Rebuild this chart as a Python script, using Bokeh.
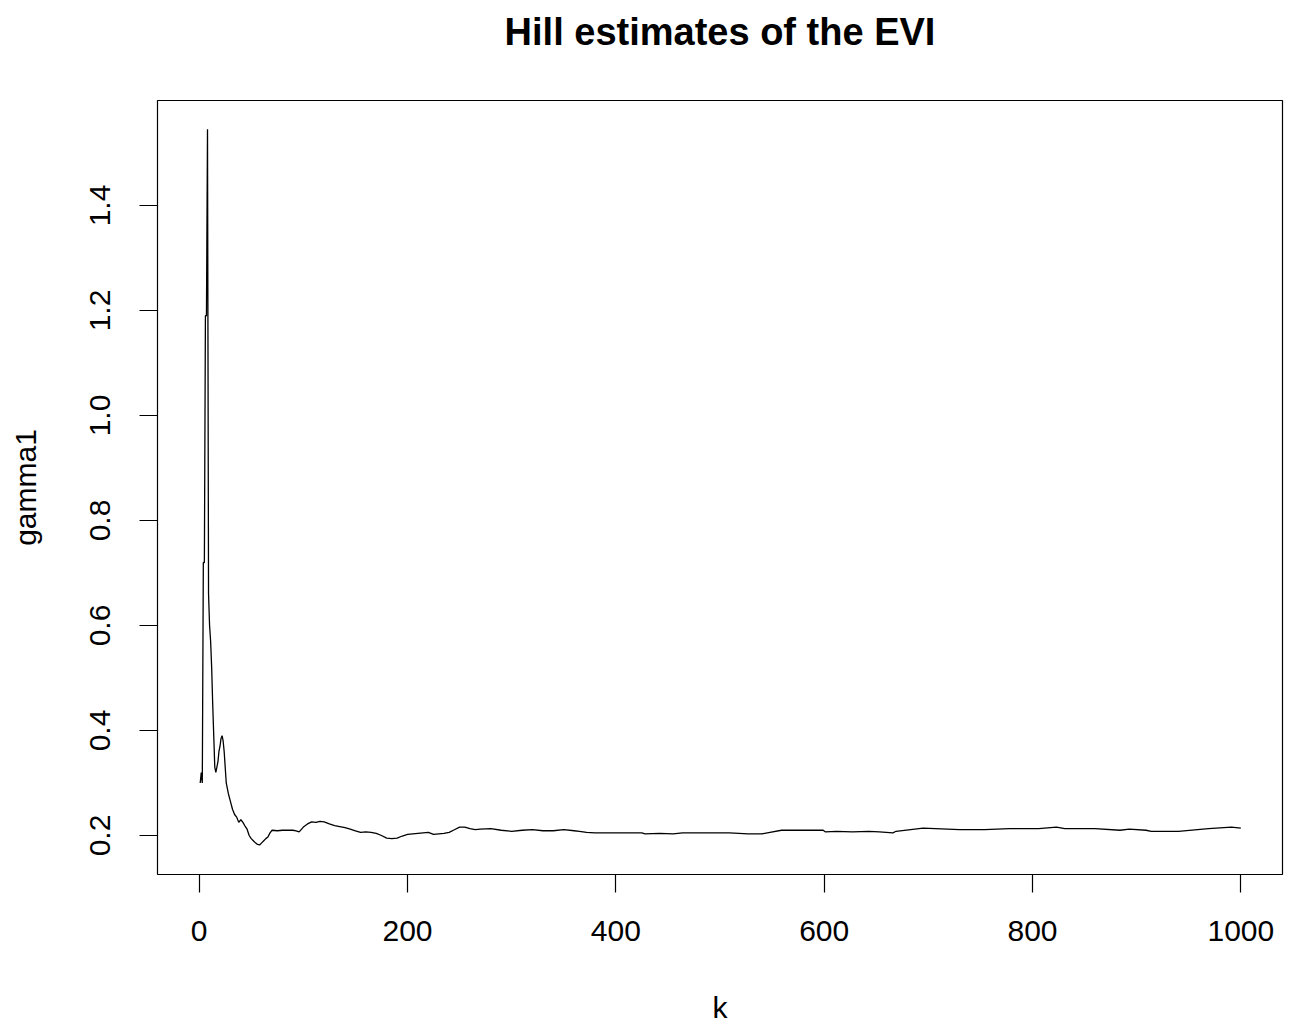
from bokeh.plotting import figure
from bokeh.models import FixedTicker, Range1d, PrintfTickFormatter
from bokeh.embed import file_html
from bokeh.resources import INLINE

# k and gamma1 values
k_values = [1, 2, 3, 4, 5, 6, 7, 8, 9, 10, 11, 12, 13, 14, 15, 16, 17, 18, 19, 20,
            21, 22, 23, 24, 25, 26, 27, 28, 30, 32, 34, 36, 38, 40, 42, 44, 46, 48,
            50, 52, 54, 56, 58, 60, 62, 64, 66, 68, 70, 75, 80, 85, 90, 93, 96,
            100, 104, 108, 112, 116, 120, 125, 130, 135, 140, 145, 150, 155, 160,
            165, 170, 175, 180, 185, 190, 195, 200, 205, 210, 215, 220, 225, 230,
            235, 240, 245, 250, 255, 260, 265, 270, 280, 290, 300, 310, 320, 330,
            340, 350, 360, 365, 372, 380, 400, 425, 428, 442, 455, 464, 480, 500,
            509, 527, 540, 548, 559, 580, 599, 601, 612, 627, 643, 653, 666, 669,
            695, 730, 754, 778, 806, 823, 831, 860, 884, 893, 909, 914, 940, 969,
            991, 1000]
gamma1_values = [0.30, 0.32, 0.30, 0.72, 0.72, 1.19, 1.19, 1.545, 0.66, 0.60, 0.57,
                 0.52, 0.45, 0.39, 0.33, 0.32, 0.33, 0.34, 0.36, 0.37, 0.385, 0.39,
                 0.38, 0.36, 0.33, 0.30, 0.29, 0.28, 0.265, 0.25, 0.24, 0.235, 0.225,
                 0.23, 0.225, 0.218, 0.212, 0.20, 0.194, 0.19, 0.186, 0.183, 0.182,
                 0.186, 0.19, 0.194, 0.197, 0.205, 0.21, 0.209, 0.21, 0.21, 0.21,
                 0.209, 0.207, 0.216, 0.222, 0.226, 0.225, 0.227, 0.226, 0.222,
                 0.219, 0.217, 0.215, 0.212, 0.209, 0.206, 0.207, 0.206, 0.204,
                 0.200, 0.195, 0.194, 0.195, 0.199, 0.202, 0.203, 0.204, 0.205,
                 0.206, 0.202, 0.203, 0.204, 0.206, 0.211, 0.216, 0.216, 0.213,
                 0.211, 0.212, 0.213, 0.210, 0.208, 0.210, 0.211, 0.209, 0.209,
                 0.211, 0.209, 0.208, 0.206, 0.205, 0.205, 0.205, 0.203, 0.204,
                 0.203, 0.205, 0.205, 0.205, 0.205, 0.203, 0.203, 0.206, 0.210,
                 0.210, 0.210, 0.207, 0.208, 0.207, 0.208, 0.207, 0.205, 0.208,
                 0.214, 0.211, 0.211, 0.213, 0.213, 0.216, 0.213, 0.213, 0.210,
                 0.212, 0.210, 0.208, 0.208, 0.213, 0.216, 0.214]

x_ticks = [0, 200, 400, 600, 800, 1000]
y_ticks = [0.2, 0.4, 0.6, 0.8, 1.0, 1.2, 1.4]
title_text = "Hill estimates of the EVI"

FONT = "Liberation Sans"

p = figure(
    frame_width=1125, frame_height=774,
    min_border_left=157, min_border_right=13, min_border_top=100, min_border_bottom=151,
    x_range=Range1d(-40, 1040), y_range=Range1d(0.1257, 1.60),
    output_backend="svg", toolbar_location=None,
    title=title_text + "\n ",
)

p.line(k_values, gamma1_values, line_color="black", line_width=1.3)

p.title.align = "center"
p.title.vertical_align = "top"
p.title.text_font = FONT
p.title.text_font_size = "38px"
p.title.text_font_style = "bold"
p.title.text_color = "black"
p.title.standoff = 8

p.xgrid.visible = False
p.ygrid.visible = False
p.outline_line_color = "black"
p.outline_line_width = 1.2
p.background_fill_color = "white"
p.border_fill_color = "white"

for ax in (p.xaxis[0], p.yaxis[0]):
    ax.axis_line_color = None
    ax.major_tick_in = 0
    ax.major_tick_out = 18
    ax.major_tick_line_color = "black"
    ax.major_tick_line_width = 1.2
    ax.minor_tick_line_color = None
    ax.major_label_text_font = FONT
    ax.major_label_text_font_size = "30px"
    ax.major_label_text_color = "black"
    ax.axis_label_text_font = FONT
    ax.axis_label_text_font_size = "30px"
    ax.axis_label_text_font_style = "normal"
    ax.axis_label_text_color = "black"

p.xaxis.ticker = FixedTicker(ticks=x_ticks)
p.yaxis.ticker = FixedTicker(ticks=y_ticks)
p.yaxis.formatter = PrintfTickFormatter(format="%.1f")
p.xaxis.axis_label = "k"
p.yaxis.axis_label = "gamma1"
p.xaxis.major_label_standoff = 28
p.xaxis.axis_label_standoff = 47
p.yaxis.major_label_orientation = "vertical"
p.yaxis.major_label_standoff = 29
p.yaxis.axis_label_standoff = 46

open("out.html", "w").write(file_html(p, INLINE))
